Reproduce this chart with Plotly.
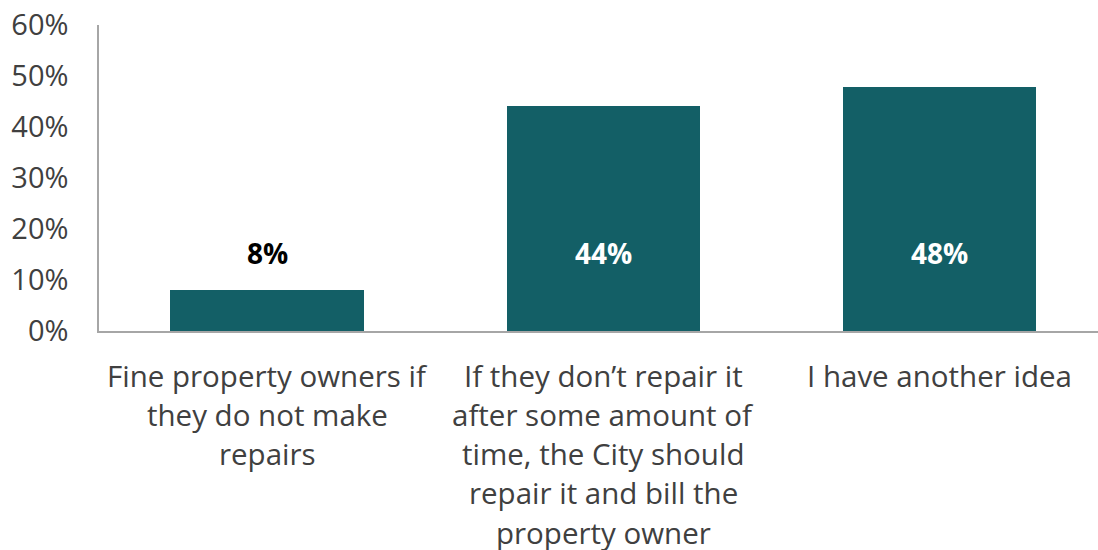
import plotly.graph_objects as go

categories = ["Fine property owners if<br>they do not make<br>repairs",
              "If they don’t repair it<br>after some amount of<br>time, the City should<br>repair it and bill the<br>property owner",
              "I have another idea"]
values = [8.1, 44.1, 47.9]
value_labels = ["8%", "44%", "48%"]
label_colors = ["#000000", "#ffffff", "#ffffff"]
y_ticks = [0, 10, 20, 30, 40, 50, 60]
y_tick_labels = ["0%", "10%", "20%", "30%", "40%", "50%", "60%"]

BAR = "#135F66"
FONT = "Open Sans"
GRAY = "#404040"

fig = go.Figure(go.Bar(x=list(range(len(categories))), y=values, marker_color=BAR,
                       marker_line_width=0, width=0.575, hoverinfo="skip"))

annotations = []
for i, lab in enumerate(value_labels):
    annotations.append(dict(x=i, y=15.2, xref="x", yref="y", text="<b>%s</b>" % lab,
                            showarrow=False, font=dict(family=FONT, size=28, color=label_colors[i])))
LINE_H = 39.3
for i, cat in enumerate(categories):
    for j, line in enumerate(cat.split("<br>")):
        annotations.append(dict(x=i, y=0, xref="x", yref="y", text=line, showarrow=False,
                                yanchor="middle", yshift=-(44 + j * LINE_H),
                                font=dict(family=FONT, size=29.5, color=GRAY)))

fig.update_layout(
    width=1098, height=550,
    margin=dict(l=99, r=0, t=25, b=219, autoexpand=False),
    paper_bgcolor="white", plot_bgcolor="white",
    showlegend=False,
    bargap=0,
    annotations=annotations,
    xaxis=dict(range=[-0.5, 2.472], showticklabels=False, showgrid=False, zeroline=False,
               showline=True, linecolor="#A6A6A6", linewidth=2, ticks="", fixedrange=True),
    yaxis=dict(range=[0, 60], tickvals=y_ticks, ticktext=y_tick_labels, showgrid=False,
               zeroline=False, showline=True, linecolor="#A6A6A6", linewidth=1.5, ticks="",
               ticklen=0, ticklabelstandoff=23,
               tickfont=dict(family=FONT, size=29, color=GRAY), fixedrange=True),
)

fig.write_html("out.html", config={"displayModeBar": False},
               post_script="document.body.style.margin='0';document.body.style.overflow='hidden';")
